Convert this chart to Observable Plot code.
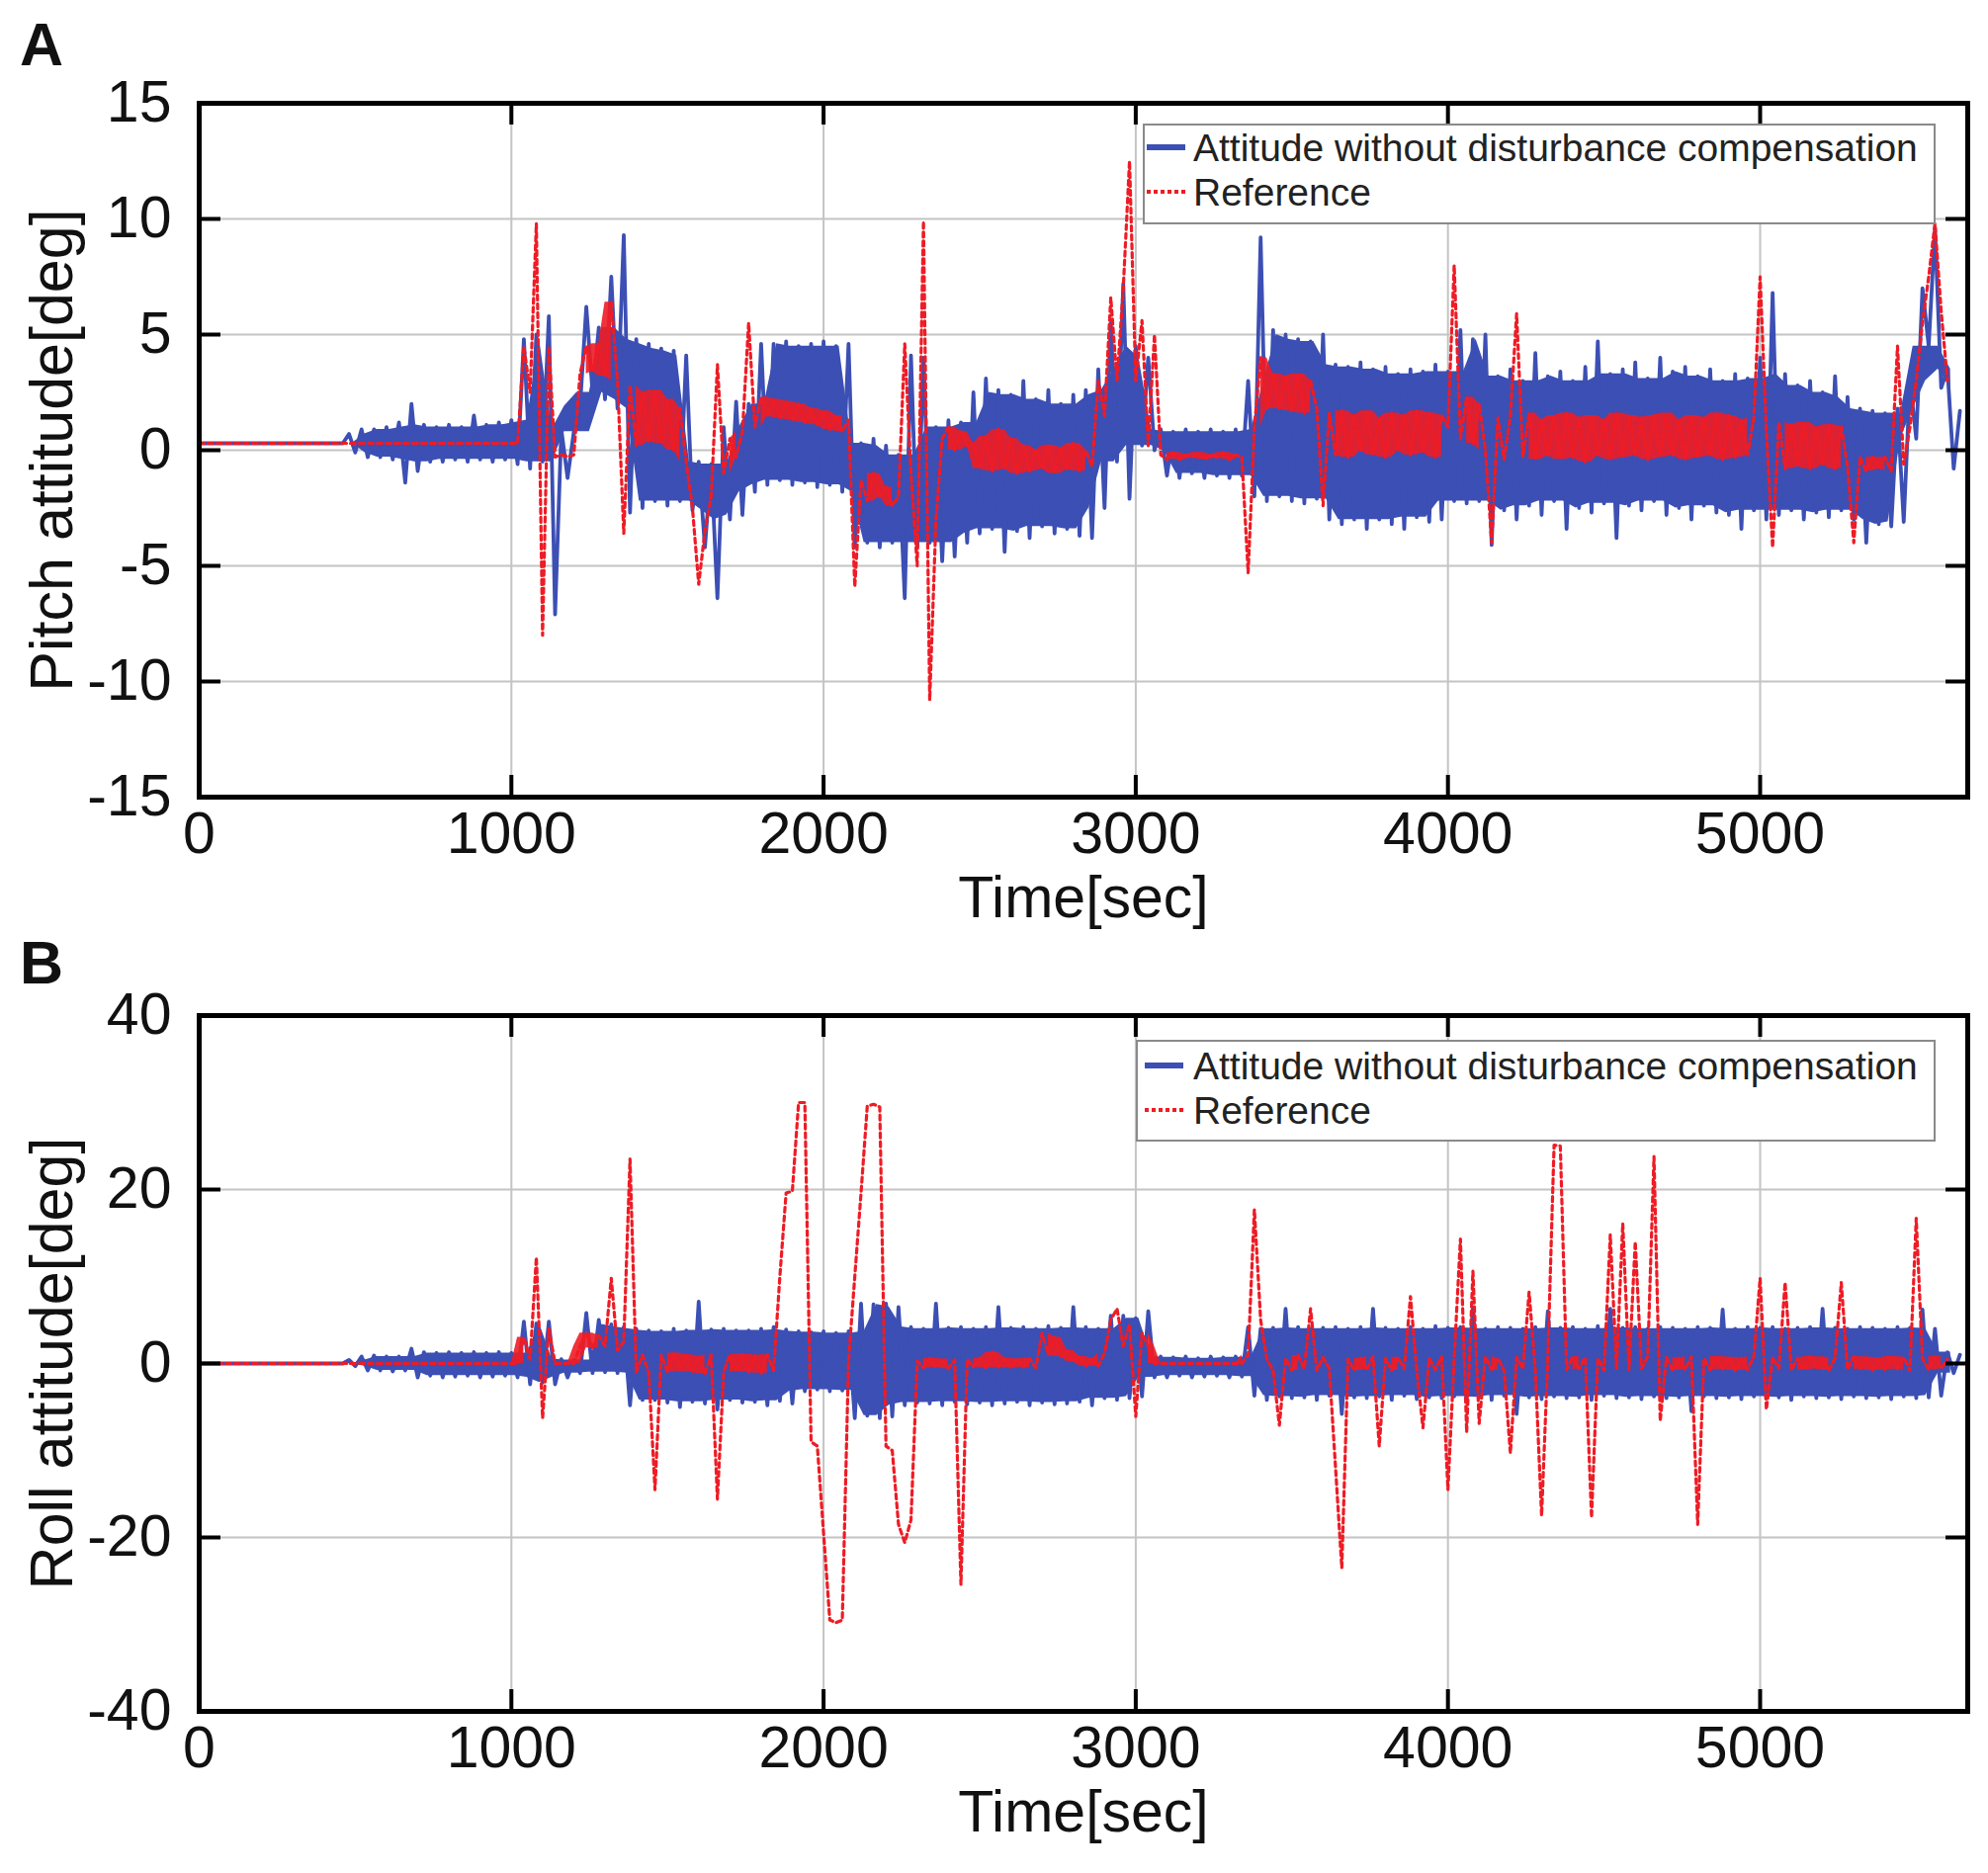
<!DOCTYPE html>
<html>
<head>
<meta charset="utf-8">
<script src="https://cdn.jsdelivr.net/npm/d3@7"></script>
<script src="https://cdn.jsdelivr.net/npm/@observablehq/plot@0.6"></script>
<style>
  body { margin: 0; background: #fff; }
  #wrap { position: relative; width: 2011px; height: 1895px; background: #fff; font-family: 'Liberation Sans', Arial, sans-serif; }
  .plabel { position: absolute; font-weight: bold; font-size: 61px; line-height: 61px; color: #111; }
  .svgbox { position: absolute; left: 0; }
  .legend { position: absolute; background: #fff; border: 2px solid #8a8a8a; box-sizing: border-box; }
  .row { position: absolute; height: 45px; line-height: 45px; font-size: 39px; color: #222; white-space: nowrap; }
  .row svg { position: absolute; top: 17px; }
  .row span { position: absolute; }
</style>
</head>
<body>
<div id="wrap"></div>
<script>
// ---- axis ticks ----
const xTicks = [0, 1000, 2000, 3000, 4000, 5000];
const pitchTicks = [-15, -10, -5, 0, 5, 10, 15];
const rollTicks = [-40, -20, 0, 20, 40];
const legendLabels = ["Attitude without disturbance compensation", "Reference"];

// sampling grid (seconds), one value every 20 s
const time = d3.range(0, 5641, 20);

// ---- Panel A: pitch attitude [deg] ----
const pitchBlue = [
0.3,0.3,0.3,0.3,0.3,0.3,0.3,0.3,0.3,0.3,0.3,0.3,0.3,0.3,0.3,0.3,0.3,0.3,0.3,0.3,0.3,0.3,0.3,0.3,
0.7,-0.1,0.9,-0.3,0.9,-0.3,1.0,-0.4,1.2,-1.4,2.0,-0.9,1.1,-0.5,1.0,-0.5,1.1,-0.4,1.0,-0.5,1.5,-0.4,1.1,-0.5,1.2,-0.4,1.3,-0.6,
4.8,-0.8,5.0,-0.5,5.8,-7.1,0.9,-1.2,0.8,1.9,6.2,2.5,5.3,2.2,7.5,1.8,9.3,-2.7,4.8,-2.5,4.6,-2.2,4.4,-2.4,4.3,-2.2,4.1,-2.6,-0.5,-4.2,-0.6,-6.4,1.0,-3.0,2.1,-2.8,2.0,-1.8,4.6,-1.5,4.6,-1.3,4.7,-1.5,4.5,-1.4,4.6,-1.6,4.7,-1.5,4.5,-1.8,4.6,
-4.2,0.3,-4.0,0.5,-4.2,0.2,-4.0,-0.2,-6.4,4.1,-4.2,4.0,-4.0,1.0,-4.8,1.3,-4.6,1.2,-4.0,2.5,-3.6,3.1,-3.4,2.6,-4.4,2.4,-3.5,3.0,-3.8,2.2,-3.3,2.6,-3.6,2.0,-3.4,2.4,-3.7,2.6,-3.8,3.5,-2.5,5.5,-0.5,7.2,-2.1,4.5,0.2,4.0,0.0,
0.9,-1.1,0.8,-1.2,0.9,-1.0,0.8,-1.2,0.9,-1.1,0.8,-1.2,0.9,-1.1,
3.0,-2.0,9.2,-2.2,5.2,-2.0,5.0,-2.2,4.8,-2.3,4.7,-2.1,5.0,-3.0,3.7,-3.2,3.6,-3.0,3.8,-3.4,3.5,-3.0,3.6,-3.2,3.3,-3.4,3.5,-2.9,3.4,-3.1,3.7,-3.0,
3.4,-2.2,5.2,-2.3,4.8,-2.2,5.0,-4.1,3.2,-2.6,3.5,-3.0,3.0,-2.4,4.2,-2.8,3.2,-2.2,3.4,-3.4,3.0,-2.5,3.6,-2.7,4.7,-2.3,3.3,-3.8,3.5,-2.4,3.8,-2.6,3.1,-2.2,4.0,-2.8,3.4,-2.5,3.6,-3.0,3.2,-2.4,3.5,-2.7,3.0,-2.8,3.3,-3.4,3.1,-2.6,
4.0,-3.0,6.8,-2.8,3.3,-2.6,2.8,-3.0,3.0,-2.7,2.5,-2.9,3.2,-2.6,2.3,-3.0,1.8,-4.0,1.7,-3.2,1.6,-3.3,1.8,-3.1,3.0,0.5,7.0,4.5,9.6,2.7,3.5,-0.8,1.7
];
const pitchRed = [
0.3,0.3,0.3,0.3,0.3,0.3,0.3,0.3,0.3,0.3,0.3,0.3,0.3,0.3,0.3,0.3,0.3,0.3,0.3,0.3,0.3,0.3,0.3,0.3,0.3,0.3,
0.3,0.3,0.3,0.3,0.3,0.3,0.3,0.3,0.3,0.3,0.3,0.3,0.3,0.3,0.3,0.3,0.3,0.3,0.3,0.3,0.3,0.3,0.3,0.3,0.3,0.3,
4.5,2.5,9.8,-8.0,4.5,-0.3,-0.2,-0.3,-0.2,3.3,4.5,3.4,4.6,3.2,6.4,3.0,-3.6,2.8,0.2,2.5,0.4,2.6,0.3,2.2,0.0,1.8,-0.5,-2.5,-5.8,-3.5,-2.0,3.7,-1.0,0.5,-0.3,0.8,5.5,1.0,2.3,1.5,2.2,1.4,2.1,1.3,2.0,1.2,1.8,1.1,1.7,0.9,1.5,0.8,1.3,
-5.9,-1.3,-2.2,-1.0,-2.0,-1.6,-2.4,-2.0,4.6,-1.0,-5.0,9.9,-10.8,-3.0,0.5,1.0,0.0,0.8,0.2,0.3,-0.8,0.6,-0.9,0.9,-0.8,0.5,-1.0,0.2,-0.9,0.0,-0.8,0.2,-1.0,0.1,-0.8,0.3,-0.9,0.0,-0.7,3.0,1.5,6.6,3.0,7.0,12.5,3.0,5.6,0.2,5.0,
-0.2,-0.4,-0.1,-0.4,-0.2,-0.3,-0.1,-0.4,-0.2,-0.3,-0.1,-0.4,-0.2,-0.3,
-5.3,1.0,4.0,1.8,3.3,1.8,3.2,1.7,3.3,1.6,3.0,1.8,-2.4,1.6,-0.2,1.7,-0.3,1.5,0.0,1.7,-0.2,1.4,-0.3,1.6,0.0,1.5,-0.2,1.7,-0.1,1.6,-0.3,1.5,
1.0,8.0,0.5,2.3,0.3,2.0,0.0,-4.0,1.4,-0.4,1.5,5.9,-0.3,1.6,-0.4,1.3,-0.2,1.5,-0.4,1.6,-0.3,1.4,-0.5,1.5,-0.2,1.3,-0.4,1.6,-0.3,1.5,-0.2,1.4,-0.4,1.5,-0.3,1.6,-0.2,1.3,-0.4,1.5,-0.3,1.4,-0.2,1.6,-0.4,1.5,-0.3,1.3,-0.2,1.4,
7.5,0.8,-4.2,1.2,-0.8,1.1,-0.7,1.2,-0.8,1.0,-0.6,1.1,-0.8,1.0,-0.7,-4.0,-0.3,-0.9,-0.3,-0.8,-0.3,-0.9,4.5,-0.6,1.0,3.0,5.5,7.5,9.8,6.0,3.0,null,null
];

// ---- Panel B: roll attitude [deg] ----
const rollBlue = [
0,0,0,0,0,0,0,0,0,0,0,0,0,0,0,0,0,0,0,0,0,0,0,0,
0.4,-0.3,0.8,-0.8,0.9,-0.8,0.8,-0.9,0.8,-0.8,1.7,-1.6,1.3,-1.4,1.2,-1.6,1.3,-1.5,1.2,-1.4,1.3,-1.6,1.2,-1.5,1.3,-1.4,1.2,-1.6,
4.8,-2.4,4.6,-2.2,4.8,-2.4,0.5,-1.6,0.4,-1.1,5.8,-1.1,5.0,-1.0,4.5,-1.1,4.2,-4.8,4.0,-4.2,3.8,-4.2,3.7,-4.5,4.0,-5.0,3.8,-4.4,7.1,-4.6,3.9,-5.3,4.0,-4.2,3.8,-4.5,3.8,-4.4,4.0,-4.8,4.2,-4.3,3.9,-4.6,3.7,-3.2,3.6,-3.0,3.7,-3.2,3.5,-3.1,3.7,
-6.3,6.9,-6.0,6.8,-6.3,6.9,-6.1,6.5,-4.8,4.2,-4.5,4.0,-4.6,6.9,-4.8,4.1,-4.4,4.2,-4.7,4.0,-4.5,4.2,-4.8,6.5,-4.6,4.1,-4.4,4.2,-4.8,4.0,-4.5,4.3,-4.7,4.1,-4.6,6.5,-4.4,4.2,-4.8,4.0,-4.0,5.5,-4.2,5.5,-4.0,5.2,-3.8,6.0,-1.6,
0.8,-1.6,0.7,-1.4,0.8,-1.6,0.6,-1.5,0.8,-1.4,0.7,-1.6,0.8,-1.5,
4.2,-3.7,4.0,-4.2,4.1,-3.8,6.3,-4.0,4.2,-3.9,4.0,-4.2,4.1,-3.7,4.2,-5.8,4.0,-3.9,4.2,-4.0,6.3,-3.8,4.1,-4.2,4.0,-3.7,4.2,-4.1,4.0,-3.9,4.3,-4.0,
4.1,-3.8,4.2,-4.0,6.3,-3.9,4.0,-4.2,4.2,-3.7,4.1,-5.8,4.0,-3.9,4.2,-4.1,6.0,-3.8,4.1,-4.0,4.2,-3.9,4.0,-4.2,4.3,-3.7,6.3,-4.0,4.1,-3.9,4.2,-4.1,4.0,-3.8,4.2,-4.0,4.1,-3.9,4.0,-5.5,4.2,-3.8,4.1,-4.0,6.2,-3.9,4.0,-4.1,4.2,-3.8,
4.1,-4.0,4.2,-3.9,4.0,-4.2,4.1,-3.8,4.2,-4.0,6.3,-3.9,4.1,-4.1,4.0,-3.8,4.2,-4.0,4.1,-3.9,4.0,-4.1,4.2,-3.8,4.1,-4.0,6.2,-3.9,4.0,-3.7,1.3,-1.1,1.0
];
const rollRed = [
0,0,0,0,0,0,0,0,0,0,0,0,0,0,0,0,0,0,0,0,0,0,0,0,0,0,
0,0,0,0,0,0,0,0,0,0,0,0,0,0,0,0,0,0,0,0,0,0,0,0,0,0,
3.0,0.5,12.2,-6.3,4.0,0.0,0.0,0.0,0.0,2.0,3.5,1.8,3.2,2.0,9.8,1.5,2.5,23.5,-1.0,1.0,-1.0,-14.5,1.0,-1.0,1.2,-0.8,1.0,-1.0,0.8,-1.2,1.0,-15.6,-1.0,1.0,-0.9,1.1,-1.0,0.9,-1.1,1.0,-0.8,10.0,19.6,19.8,30.0,30.0,-9.0,-9.5,-19.5,-29.5,-29.8,-29.5,0.3,
10.0,19.6,29.6,29.8,29.5,-9.5,-10.0,-18.5,-20.6,-18.0,0.3,-0.5,0.6,-0.4,0.5,-0.6,0.4,-25.4,0.5,-0.4,0.6,-0.5,1.3,-0.4,0.6,-0.5,0.5,-0.4,0.6,-0.5,3.5,1.0,3.0,0.8,1.5,0.2,0.8,-0.3,0.5,-0.3,1.2,5.0,6.3,2.0,4.5,-6.1,3.5,2.0,0.0,
0,0,0,0,0,0,0,0,0,0,0,0,0,0,
1.0,17.7,5.0,0.5,-0.8,-7.1,0.6,-0.8,0.9,-0.6,6.3,-0.8,0.7,-0.6,-12.0,-23.5,0.5,-0.8,0.6,-0.7,0.8,-9.5,0.6,-0.8,0.7,-0.6,7.7,-0.8,-7.4,0.6,-0.7,0.8,
-14.5,0.6,14.3,-7.9,10.6,-6.9,0.8,-0.7,0.6,-0.8,-10.3,0.7,-0.6,8.2,-0.8,-17.5,0.6,25.1,25.0,-0.7,0.8,-0.6,0.7,-17.7,0.6,-0.8,14.8,-0.6,16.1,-0.7,14.0,-0.6,0.8,23.8,-6.6,0.7,-0.8,0.6,-0.7,0.8,-18.5,0.6,-0.7,0.8,-0.6,0.7,-0.8,0.6,-0.7,0.8,
9.8,-5.3,0.7,-0.6,9.3,-0.8,0.6,-0.7,0.8,-0.6,0.7,-0.8,0.6,9.3,-0.7,0.8,-0.6,0.7,-0.8,0.6,-0.7,0.8,-0.6,0.7,-0.8,16.7,0.6,-0.7,0.8,-0.6,0.5,null,null
];

const BLUE = "#3c4fb4";
const RED = "#ee1c25";
const FONT = "'Liberation Sans', Arial, Helvetica, sans-serif";

function series(values) {
  return time.map((t, i) => ({t, v: values[i] === undefined ? null : values[i]}));
}

// inner fill for the blue trace, built from the read high/low pairs; the
// high and low teeth of the line itself stay visible above and below it
function blueBand(values) {
  const pairs = [];
  for (let i = 0; i + 1 < values.length; i += 2) pairs.push({t: time[i] + 10, hi: values[i], lo: values[i + 1]});
  return pairs.map((d, k) => {
    const p = pairs[k - 1] || d, n = pairs[k + 1] || d;
    let hi = Math.min(p.hi, d.hi, n.hi);
    let lo = Math.max(p.lo, d.lo, n.lo);
    if (hi < lo) [hi, lo] = [lo, hi];
    return {t: d.t, hi, lo};
  });
}

// fill for the red trace where it is a narrow noisy band (spikes stay as the dotted line)
function redBand(values, maxRange) {
  return time.map((t, i) => {
    const w = [values[i - 1], values[i], values[i + 1]].filter(v => v !== null && v !== undefined);
    if (w.length < 3) return {t, lo: null, hi: null};
    const lo = Math.min(...w), hi = Math.max(...w);
    return hi - lo <= maxRange ? {t, lo, hi} : {t, lo: null, hi: null};
  });
}

function panel({height, marginTop, marginBottom, yDomain, yTicks, yLabel, blue, red}) {
  const W = 2011, ML = 201, MR = 21;
  const innerH = height - marginTop - marginBottom;
  const innerW = W - ML - MR;
  const TL = 22;
  return Plot.plot({
    width: W, height, marginLeft: ML, marginRight: MR, marginTop, marginBottom,
    x: {domain: [0, 5665]},
    y: {domain: yDomain},
    style: {fontFamily: FONT, fontSize: "59px", color: "#111", background: "white", overflow: "visible"},
    marks: [
      Plot.gridX(xTicks, {stroke: "#c4c4c4", strokeOpacity: 1, strokeWidth: 2}),
      Plot.gridY(yTicks, {stroke: "#c4c4c4", strokeOpacity: 1, strokeWidth: 2}),
      Plot.areaY(blueBand(blue), {x: "t", y1: "lo", y2: "hi", fill: BLUE}),
      Plot.line(series(blue), {x: "t", y: "v", stroke: BLUE, strokeWidth: 3.8}),
      Plot.areaY(redBand(red, 3.5), {x: "t", y1: "lo", y2: "hi", fill: RED, fillOpacity: 0.9}),
      Plot.line(series(red), {x: "t", y: "v", stroke: RED, strokeWidth: 3.2, strokeDasharray: "5,4"}),
      Plot.axisX({ticks: xTicks, tickSize: 0, tickPadding: 15, label: null, tickFormat: d => String(d), fontSize: 59}),
      Plot.axisY({ticks: yTicks, tickSize: 0, tickPadding: 28, label: null, tickFormat: d => String(d), fontSize: 59}),
      Plot.tickX(xTicks, {x: d => d, insetTop: innerH - TL, stroke: "#000", strokeWidth: 4}),
      Plot.tickX(xTicks, {x: d => d, insetBottom: innerH - TL, stroke: "#000", strokeWidth: 4}),
      Plot.tickY(yTicks, {y: d => d, insetRight: innerW - TL, stroke: "#000", strokeWidth: 4}),
      Plot.tickY(yTicks, {y: d => d, insetLeft: innerW - TL, stroke: "#000", strokeWidth: 4}),
      Plot.frame({stroke: "#000", strokeWidth: 5}),
      Plot.text(["Time[sec]"], {frameAnchor: "bottom", dy: 121, fontSize: 59, fill: "#111", textAnchor: "middle"}),
      Plot.text([yLabel], {frameAnchor: "left", dx: -148, rotate: -90, fontSize: 61, fill: "#111", textAnchor: "middle", lineAnchor: "middle"})
    ]
  });
}

const wrap = document.getElementById("wrap");

function addSvg(svg, top) {
  const d = document.createElement("div");
  d.className = "svgbox";
  d.style.top = top + "px";
  d.appendChild(svg);
  wrap.appendChild(d);
}

addSvg(panel({height: 960, marginTop: 104, marginBottom: 154, yDomain: [-15, 15], yTicks: pitchTicks,
  yLabel: "Pitch attitude[deg]", blue: pitchBlue, red: pitchRed}), 0);
addSvg(panel({height: 935, marginTop: 67, marginBottom: 164, yDomain: [-40, 40], yTicks: rollTicks,
  yLabel: "Roll attitude[deg]", blue: rollBlue, red: rollRed}), 960);

function addLabel(txt, left, top) {
  const d = document.createElement("div");
  d.className = "plabel";
  d.textContent = txt;
  d.style.left = left + "px";
  d.style.top = top + "px";
  wrap.appendChild(d);
}
addLabel("A", 20, 15);
addLabel("B", 20, 944);

function addLegend(left, top, width, height, row1, row2, lineX, textX) {
  const box = document.createElement("div");
  box.className = "legend";
  Object.assign(box.style, {left: left + "px", top: top + "px", width: width + "px", height: height + "px"});
  const rows = [
    {y: row1, stroke: BLUE, dash: null, sw: 6, label: legendLabels[0]},
    {y: row2, stroke: RED, dash: "4,3", sw: 4, label: legendLabels[1]}
  ];
  for (const r of rows) {
    const row = document.createElement("div");
    row.className = "row";
    Object.assign(row.style, {left: "0px", top: (r.y - 22.5) + "px", width: "100%"});
    const ns = "http://www.w3.org/2000/svg";
    const s = document.createElementNS(ns, "svg");
    s.setAttribute("width", "40"); s.setAttribute("height", "10");
    s.style.left = lineX + "px";
    const ln = document.createElementNS(ns, "line");
    ln.setAttribute("x1", "0"); ln.setAttribute("x2", "39");
    ln.setAttribute("y1", "5"); ln.setAttribute("y2", "5");
    ln.setAttribute("stroke", r.stroke); ln.setAttribute("stroke-width", r.sw);
    if (r.dash) ln.setAttribute("stroke-dasharray", r.dash);
    s.appendChild(ln);
    row.appendChild(s);
    const sp = document.createElement("span");
    sp.textContent = r.label;
    sp.style.left = textX + "px";
    row.appendChild(sp);
    box.appendChild(row);
  }
  wrap.appendChild(box);
}
addLegend(1156, 125, 802, 102, 22, 67, 2, 49);
addLegend(1149, 1052, 809, 103, 24, 69, 7, 56);
</script>
</body>
</html>
